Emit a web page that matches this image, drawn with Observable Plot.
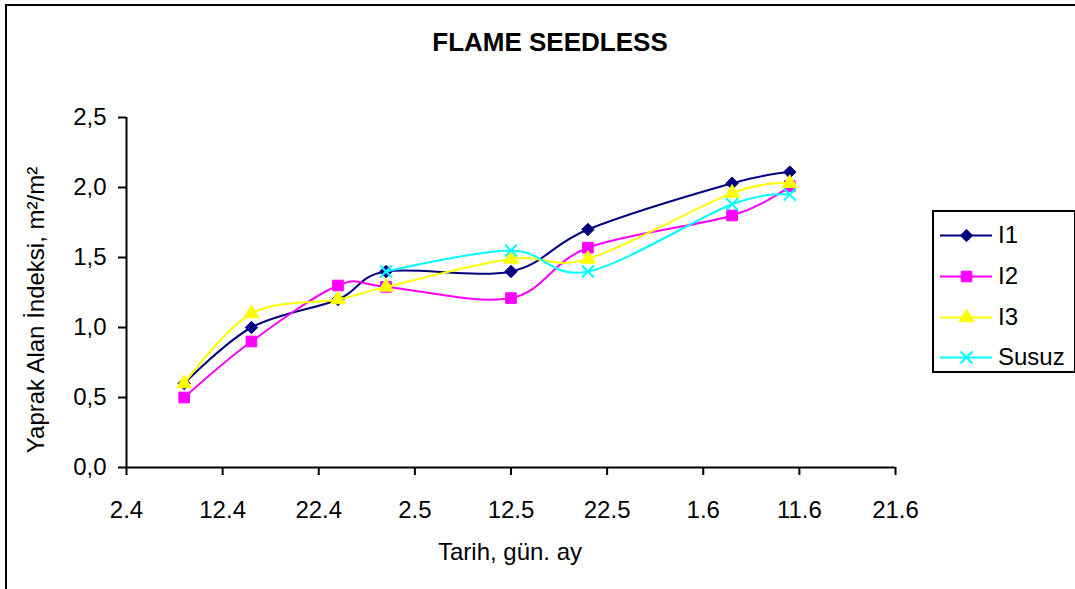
<!DOCTYPE html>
<html>
<head>
<meta charset="utf-8">
<script src="https://cdn.jsdelivr.net/npm/d3@7"></script>
<script src="https://cdn.jsdelivr.net/npm/@observablehq/plot@0.6"></script>
<style>
  html, body { margin: 0; padding: 0; background: #fff; }
  #wrap { position: relative; width: 1075px; height: 589px; overflow: hidden; font-family: "Liberation Sans", Arial, sans-serif; color: #000; }
  #wrap svg { position: absolute; left: 0; top: 0; }
  #border { position: absolute; left: 5px; top: 4px; width: 1200px; height: 700px; border: 2px solid #000; box-sizing: border-box; }
  #title { position: absolute; left: 250px; top: 29px; width: 600px; text-align: center; font-weight: bold; font-size: 26px; line-height: 26px; }
  #xlabel { position: absolute; left: 310px; top: 540px; width: 400px; text-align: center; font-size: 24px; line-height: 24px; }
  #ylabel { position: absolute; left: -164px; top: 298px; width: 400px; text-align: center; font-size: 24px; line-height: 24px; transform: rotate(-90deg); transform-origin: 200px 12px; white-space: nowrap; }
  #legend { position: absolute; left: 932px; top: 210px; width: 144px; height: 163px; border: 2px solid #000; box-sizing: border-box; background: #fff; }
  .item { position: absolute; left: 6px; height: 24px; font-size: 24px; line-height: 24px; white-space: nowrap; }
  .item svg { position: absolute; left: 0; top: 0; }
  .item span { position: absolute; left: 58px; top: 0; }
</style>
</head>
<body>
<div id="wrap">
  <div id="border"></div>
  <div id="title">FLAME SEEDLESS</div>
  <div id="xlabel">Tarih, gün. ay</div>
  <div id="ylabel">Yaprak Alan İndeksi, m²/m²</div>
  <div id="legend"></div>
</div>
<script>
// ---- data ----
const dates = ["2005-04-08", "2005-04-15", "2005-04-24", "2005-04-29", "2005-05-12", "2005-05-20", "2005-06-04", "2005-06-10"];
const seriesNames = ["I1", "I2", "I3", "Susuz"];
const I1 = [0.60, 1.00, 1.20, 1.40, 1.40, 1.70, 2.03, 2.11];
const I2 = [0.50, 0.90, 1.30, 1.29, 1.21, 1.57, 1.80, 2.01];
const I3 = [0.60, 1.10, 1.20, 1.29, 1.49, 1.49, 1.96, 2.03];
const Susuz = [null, null, null, 1.40, 1.55, 1.40, 1.88, 1.95];
const xTickDates = ["2005-04-02", "2005-04-12", "2005-04-22", "2005-05-02", "2005-05-12", "2005-05-22", "2005-06-01", "2005-06-11", "2005-06-21"];
const xTickLabels = ["2.4", "12.4", "22.4", "2.5", "12.5", "22.5", "1.6", "11.6", "21.6"];
const yTicks = [0, 0.5, 1.0, 1.5, 2.0, 2.5];

// ---- styles (not data) ----
const colors = {I1: "#000080", I2: "#FF00FF", I3: "#FFFF00", Susuz: "#00FFFF"};
const symbols = {I1: "diamond2", I2: "square", I3: "triangle", Susuz: "times"};
const radii = {I1: 5.6, I2: 6, I3: 5.5, Susuz: 5.5};

const valuesBy = {I1, I2, I3, Susuz};
const rows = [];
for (const s of seriesNames) {
  valuesBy[s].forEach((v, i) => {
    if (v != null) rows.push({series: s, date: new Date(dates[i]), value: v});
  });
}

const tickDates = xTickDates.map(d => new Date(d));
const fmtX = d => xTickLabels[tickDates.findIndex(t => +t === +d)];

const marks = [
  Plot.axisY({ticks: yTicks, tickSize: 8, tickPadding: 12, fontSize: 24, tickFormat: d => d.toFixed(1).replace(".", ","), label: null, strokeWidth: 2}),
  Plot.axisX({ticks: tickDates, tickSize: 8, tickPadding: 25, fontSize: 24, tickFormat: fmtX, label: null, strokeWidth: 2}),
  Plot.ruleY([0], {stroke: "#000", strokeWidth: 2}),
  Plot.ruleX([tickDates[0]], {stroke: "#000", strokeWidth: 2})
];
for (const s of seriesNames) {
  const data = rows.filter(r => r.series === s);
  marks.push(Plot.line(data, {x: "date", y: "value", stroke: colors[s], strokeWidth: 2, curve: "cardinal"}));
  if (s === "Susuz") {
    marks.push(Plot.dot(data, {x: "date", y: "value", symbol: symbols[s], r: radii[s], stroke: colors[s], strokeWidth: 2}));
  } else {
    marks.push(Plot.dot(data, {x: "date", y: "value", symbol: symbols[s], r: radii[s], fill: colors[s], stroke: colors[s], strokeWidth: 1}));
  }
}

const chart = Plot.plot({
  width: 1075,
  height: 589,
  marginLeft: 126,
  marginRight: 180,
  marginTop: 117,
  marginBottom: 122,
  style: {fontFamily: "'Liberation Sans', Arial, sans-serif", fontSize: "24px", color: "#000", background: "transparent"},
  x: {type: "utc", domain: [tickDates[0], tickDates[tickDates.length - 1]], axis: null},
  y: {domain: [0, 2.5], axis: null},
  marks
});
document.getElementById("wrap").insertBefore(chart, document.getElementById("title"));

// ---- legend ----
const legend = document.getElementById("legend");
const legendTops = [11, 52, 93, 133];
seriesNames.forEach((s, i) => {
  const item = document.createElement("div");
  item.className = "item";
  item.style.top = legendTops[i] + "px";
  item.style.width = "136px";
  const sw = Plot.plot({
    width: 52, height: 24, margin: 0,
    x: {domain: [0, 1], axis: null}, y: {domain: [0, 1], axis: null},
    style: {background: "transparent"},
    marks: [
      Plot.ruleY([0.5], {x1: 0, x2: 1, stroke: colors[s], strokeWidth: 2}),
      s === "Susuz"
        ? Plot.dot([0.5], {x: d => d, y: 0.5, symbol: symbols[s], r: radii[s], stroke: colors[s], strokeWidth: 2})
        : Plot.dot([0.5], {x: d => d, y: 0.5, symbol: symbols[s], r: radii[s], fill: colors[s], stroke: colors[s], strokeWidth: 1})
    ]
  });
  item.appendChild(sw);
  const t = document.createElement("span");
  t.textContent = s;
  item.appendChild(t);
  legend.appendChild(item);
});
</script>
</body>
</html>
